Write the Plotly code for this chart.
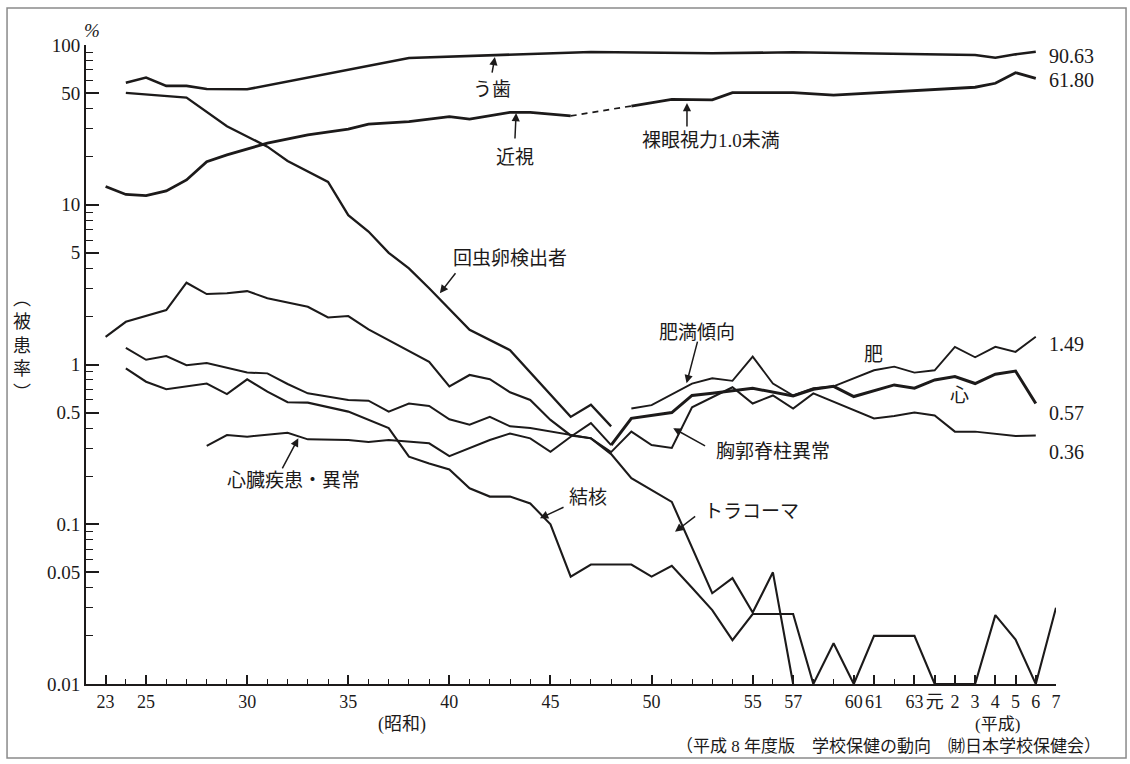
import math
import plotly.graph_objects as go

# ---------------- data (school health survey rates, %) ----------------
caries_years = [1949, 1950, 1951, 1952, 1953, 1955, 1963, 1967, 1972, 1978, 1982, 1991, 1992, 1993, 1994]
caries = [58, 62.5, 55.5, 55.5, 53, 52.8, 83, 86.5, 90.4, 88.7, 90, 86.6, 83.3, 87.4, 90.63]

myopia_years = [1948, 1949, 1950, 1951, 1952, 1953, 1954, 1956, 1958, 1960, 1961, 1963, 1965, 1966,
                1968, 1969, 1971]
myopia = [13.0, 11.6, 11.4, 12.2, 14.3, 18.6, 20.5, 24.3, 27.4, 29.7, 32.0, 33.1, 35.6, 34.4,
          37.9, 37.9, 36.0]

vision_gap_years = [1971, 1974]
vision_gap = [36.0, 41.5]

vision_years = [1974, 1976, 1978, 1979, 1982, 1984, 1991, 1992, 1993, 1994]
vision = [41.5, 45.7, 45.3, 50.3, 50.3, 48.6, 54.4, 57.6, 67.1, 61.80]

roundworm_years = [1949, 1952, 1954, 1956, 1957, 1959, 1960, 1961, 1962, 1963, 1964, 1966, 1968,
                   1971, 1972, 1973]
roundworm = [50.2, 46.8, 31, 23.1, 18.8, 13.9, 8.6, 6.8, 5.0, 4.0, 3.0, 1.65, 1.23,
             0.47, 0.56, 0.41]

trachoma_years = [1948, 1949, 1951, 1952, 1953, 1954, 1955, 1956, 1958, 1959, 1960, 1961, 1964,
                  1965, 1966, 1967, 1968, 1969, 1970, 1971, 1972, 1973, 1974, 1975, 1976, 1978,
                  1979, 1980, 1981, 1982]
trachoma = [1.49, 1.85, 2.19, 3.25, 2.76, 2.79, 2.88, 2.6, 2.3, 1.97, 2.01, 1.66, 1.04,
            0.73, 0.86, 0.81, 0.67, 0.60, 0.45, 0.36, 0.345, 0.275, 0.194, 0.164, 0.138, 0.037,
            0.046, 0.028, 0.05, 0.01]

chest_years = [1949, 1950, 1951, 1952, 1953, 1955, 1956, 1957, 1958, 1960, 1961, 1962, 1963,
               1964, 1965, 1966, 1967, 1968, 1969, 1970, 1971, 1972, 1973, 1974, 1975, 1976,
               1977, 1979, 1980, 1981, 1982, 1983, 1986, 1987, 1988, 1989, 1990, 1991, 1993, 1994]
chest = [1.27, 1.07, 1.13, 0.99, 1.02, 0.89, 0.88, 0.755, 0.66, 0.60, 0.594, 0.507, 0.57,
         0.55, 0.454, 0.42, 0.47, 0.41, 0.40, 0.38, 0.36, 0.345, 0.283, 0.38, 0.313, 0.30,
         0.54, 0.72, 0.57, 0.64, 0.53, 0.66, 0.46, 0.476, 0.50, 0.48, 0.38, 0.38, 0.357, 0.36]

tb_years = [1949, 1950, 1951, 1953, 1954, 1955, 1956, 1957, 1958, 1960, 1962, 1963, 1964, 1965,
            1966, 1967, 1968, 1969, 1970, 1971, 1972, 1974, 1975, 1976, 1977, 1978, 1979, 1980,
            1982, 1983, 1984, 1985, 1986, 1988, 1989, 1991, 1992, 1993, 1994, 1995]
tb = [0.946, 0.78, 0.70, 0.76, 0.653, 0.807, 0.676, 0.58, 0.577, 0.507, 0.40, 0.265, 0.24, 0.22,
      0.168, 0.149, 0.149, 0.135, 0.10, 0.047, 0.056, 0.056, 0.047, 0.055, 0.040, 0.029, 0.0188,
      0.0274, 0.0274, 0.01, 0.018, 0.01, 0.02, 0.02, 0.01, 0.01, 0.027, 0.019, 0.01, 0.03]

heart_early_years = [1953, 1954, 1955, 1957, 1958, 1960, 1961, 1962, 1964, 1965, 1967, 1968, 1969,
                     1970, 1971, 1972, 1973]
heart_early = [0.309, 0.362, 0.353, 0.374, 0.34, 0.337, 0.327, 0.337, 0.321, 0.267, 0.337, 0.37,
               0.345, 0.284, 0.353, 0.43, 0.313]

heart_late_years = [1973, 1974, 1976, 1977, 1978, 1980, 1982, 1983, 1984, 1985, 1987, 1988, 1989,
                    1990, 1991, 1992, 1993, 1994]
heart_late = [0.313, 0.46, 0.50, 0.64, 0.66, 0.71, 0.635, 0.70, 0.73, 0.63, 0.745, 0.71, 0.80,
              0.84, 0.76, 0.87, 0.91, 0.57]

obesity_years = [1974, 1975, 1977, 1978, 1979, 1980, 1981, 1982, 1983, 1984, 1986, 1987, 1988,
                 1989, 1990, 1991, 1992, 1993, 1994]
obesity = [0.53, 0.557, 0.76, 0.82, 0.79, 1.12, 0.76, 0.64, 0.71, 0.73, 0.92, 0.97, 0.89,
           0.92, 1.29, 1.11, 1.29, 1.20, 1.49]

x_tick_years = [1948, 1950, 1955, 1960, 1965, 1970, 1975, 1980, 1982, 1985, 1986, 1988, 1989,
                1990, 1991, 1992, 1993, 1994, 1995]
x_tick_text = ["23", "25", "30", "35", "40", "45", "50", "55", "57", "60", "61", "63", "元",
               "2", "3", "4", "5", "6", "7"]

y_tick_vals = [0.01, 0.05, 0.1, 0.5, 1, 5, 10, 50, 100]
y_tick_text = ["0.01", "0.05", "0.1", "0.5", "1", "5", "10", "50", "100"]

# ---------------- styling ----------------
INK = "#1c1a1a"
SERIF = "Liberation Serif, Noto Sans CJK JP, serif"
JP = "Liberation Serif, Noto Sans CJK JP, sans-serif"

fig = go.Figure()


def add_line(xs, ys, width=2.2, dash="solid"):
    fig.add_trace(go.Scatter(x=xs, y=ys, mode="lines",
                             line=dict(color=INK, width=width, dash=dash),
                             hoverinfo="skip", showlegend=False))


add_line(caries_years, caries, 2.6)
add_line(myopia_years, myopia, 2.8)
add_line(vision_gap_years, vision_gap, 1.6, dash="6px,5px")
add_line(vision_years, vision, 2.8)
add_line(roundworm_years, roundworm, 2.3)
add_line(trachoma_years, trachoma, 2.1)
add_line(chest_years, chest, 2.0)
add_line(tb_years, tb, 2.1)
add_line(heart_early_years, heart_early, 2.0)
add_line(heart_late_years, heart_late, 3.0)
add_line(obesity_years, obesity, 1.9)

# minor ticks on the log axis: 2..9 within each decade
y_minor = [m * 10 ** e for e in range(-2, 2) for m in (2, 3, 4, 6, 7, 8, 9)]

fig.update_layout(
    width=1130, height=764,
    margin=dict(l=86, r=74, t=45, b=80),
    paper_bgcolor="white", plot_bgcolor="white",
    showlegend=False,
    font=dict(family=SERIF, color=INK, size=19),
    xaxis=dict(
        range=[1947.03, 1995.0],
        tickmode="array", tickvals=x_tick_years, ticktext=x_tick_text,
        tickangle=0,
        ticks="inside", ticklen=9, tickwidth=1.6, tickcolor=INK,
        showline=True, linewidth=2, linecolor=INK,
        showgrid=False, zeroline=False,
        tickfont=dict(family=SERIF, size=18, color=INK),
        minor=dict(ticks="inside", ticklen=5, tickwidth=1.4, tickcolor=INK,
                   dtick=1, tick0=1948, showgrid=False),
    ),
    yaxis=dict(
        type="log", range=[-2, 2],
        tickmode="array", tickvals=y_tick_vals, ticktext=y_tick_text,
        ticks="inside", ticklen=13, tickwidth=1.6, tickcolor=INK,
        showline=True, linewidth=2, linecolor=INK,
        showgrid=False, zeroline=False,
        tickfont=dict(family=SERIF, size=19, color=INK),
        minor=dict(ticks="inside", ticklen=7, tickwidth=1.4, tickcolor=INK,
                   tickmode="array", tickvals=y_minor, showgrid=False),
    ),
)

L = math.log10


def label(x, v, text, size=19, xanchor="center"):
    fig.add_annotation(x=x, y=L(v), text=text, showarrow=False, xanchor=xanchor,
                       yanchor="middle", font=dict(family=JP, size=size, color=INK))


def arrow(x0, v0, x1, v1):
    fig.add_annotation(x=x1, y=L(v1), ax=x0, ay=L(v0), axref="x", ayref="y", text="",
                       showarrow=True, arrowhead=2, arrowsize=1.1, arrowwidth=1.5,
                       arrowcolor=INK)


# series names and pointers
label(1967.1, 52.7, "う歯")
arrow(1967.1, 65.8, 1967.25, 84.1)
label(1968.24, 19.9, "近視")
arrow(1968.24, 25.4, 1968.3, 37.5)
label(1977.94, 25.1, "裸眼視力1.0未満")
arrow(1976.75, 30.2, 1976.75, 43.4)
label(1968.0, 4.64, "回虫卵検出者")
arrow(1965.36, 3.81, 1964.53, 2.79)
label(1977.24, 1.586, "肥満傾向")
arrow(1977.29, 1.42, 1976.73, 0.763)
label(1981.0, 0.287, "胸郭脊柱異常")
arrow(1977.72, 0.306, 1976.07, 0.399)
label(1957.31, 0.189, "心臓疾患・異常")
arrow(1956.7, 0.219, 1957.53, 0.345)
label(1971.86, 0.148, "結核")
arrow(1970.72, 0.129, 1969.48, 0.109)
label(1979.94, 0.1198, "トラコーマ")
arrow(1977.23, 0.114, 1976.16, 0.0897)
label(1985.95, 1.147, "肥")
label(1990.25, 0.644, "心")

# latest values at the right end of the lines
label(1994.55, 85.9, "90.63", size=20, xanchor="left")
label(1994.55, 60.8, "61.80", size=20, xanchor="left")
label(1994.55, 1.343, "1.49", size=20, xanchor="left")
label(1994.55, 0.495, "0.57", size=20, xanchor="left")
label(1994.55, 0.284, "0.36", size=20, xanchor="left")
label(1995.35, 0.0274, "0.03", size=20, xanchor="left")

# axis captions and source
paper = dict(xref="paper", yref="paper", showarrow=False)
fig.add_annotation(x=0.0065, y=1.022, text="<i>%</i>", font=dict(family=SERIF, size=19, color=INK),
                   xanchor="center", yanchor="middle", **paper)
fig.add_annotation(x=-0.066, y=0.529, text="︵<br>被<br>患<br>率<br>︶",
                   font=dict(family=JP, size=18, color=INK), xanchor="center", yanchor="middle",
                   **paper)
fig.add_annotation(x=0.3258, y=-0.063, text="(昭和)", font=dict(family=JP, size=18, color=INK),
                   xanchor="center", yanchor="middle", **paper)
fig.add_annotation(x=0.9402, y=-0.0635, text="(平成)", font=dict(family=JP, size=17, color=INK),
                   xanchor="center", yanchor="middle", **paper)
fig.add_annotation(x=1.0485, y=-0.0985,
                   text="（平成 8 年度版　学校保健の動向　㈶日本学校保健会）",
                   font=dict(family=JP, size=17, color=INK), xanchor="right", yanchor="middle",
                   **paper)

# thin frame around the whole figure
fig.add_shape(type="rect", xref="paper", yref="paper",
              x0=-0.0814, x1=1.0722, y0=-0.1158, y1=1.058,
              line=dict(color="#8a8a8a", width=1.5), fillcolor="rgba(0,0,0,0)", layer="below")

fig.write_html("out.html")
